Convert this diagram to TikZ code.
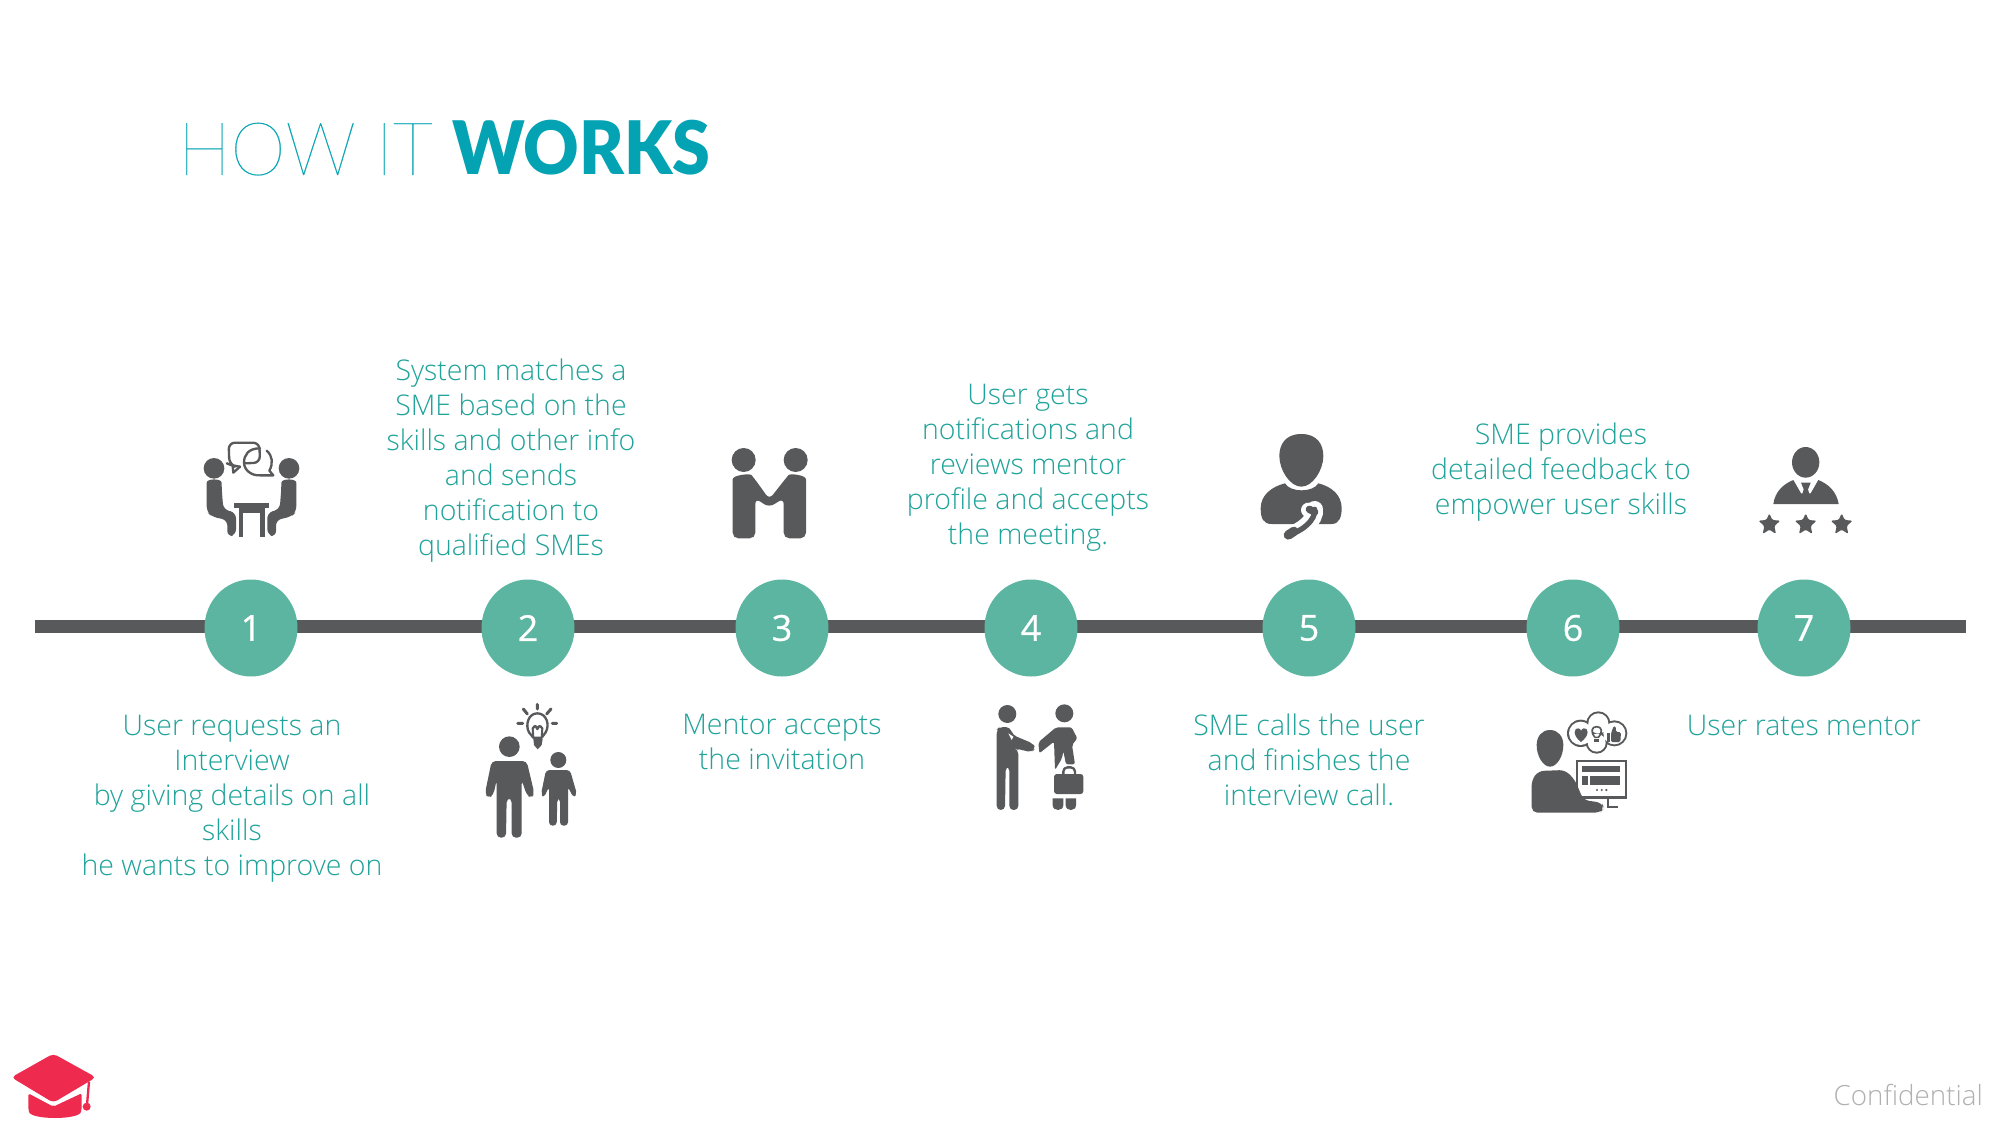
\documentclass[tikz,border=0pt]{standalone}
\usepackage{fontspec}
\usetikzlibrary{shapes.geometric}
\setmainfont{Open Sans Light}
\newfontfamily\thinf[FakeStretch=0.95,FakeBold=0.25]{Lato Hairline}
\newfontfamily\blackf[FakeStretch=0.925]{Lato Black}
\newfontfamily\numf[FakeBold=0.7]{Open Sans}
\definecolor{icon}{HTML}{58595B}
\definecolor{teal}{HTML}{1FA39A}
\definecolor{disc}{HTML}{5BB5A0}
\definecolor{head}{HTML}{03A3B3}
\definecolor{capred}{HTML}{EE2A4E}
\definecolor{conf}{HTML}{B0B0B0}
\tikzset{
  x=0.05cm,y=-0.05cm,
  ic/.style={fill=icon,draw=none,line join=round},
  ln/.style={draw=icon,line cap=round,line join=round,fill=none},
  wipe/.style={fill=white,draw=none},
  disc/.style={ellipse,fill=disc,draw=none,minimum width=4.65cm,minimum height=4.85cm,inner sep=0pt,text=white,font=\numf\fontsize{51}{54}\selectfont},
  copy/.style={text=teal,align=center,inner sep=0pt,font=\fontsize{40.5}{49.8}\selectfont},
  barline/.style={draw=icon,line width=13*0.05cm},
}
\begin{document}
\begin{tikzpicture}
\useasboundingbox (0,0) rectangle (2000,1125);
\fill[white] (0,0) rectangle (2000,1125);
% title
\node[anchor=base west,inner sep=0pt,text=head,font=\thinf\fontsize{105}{110}\selectfont] (title1) at (178,175) {HOW IT};
\node[anchor=base west,inner sep=0pt,text=head,font=\blackf\fontsize{105}{110}\selectfont] (title2) at (452,175) {WORKS};
% bar
\coordinate (barL) at (35,626);
\coordinate (barR) at (1966,626);
\draw[barline] (barL) -- (barR);
% discs
\node[disc] (n1) at (251,628) {\raisebox{-2pt}{1}};
\node[disc] (n2) at (528,628) {\raisebox{-2pt}{2}};
\node[disc] (n3) at (782,628) {\raisebox{-2pt}{3}};
\node[disc] (n4) at (1031,628) {\raisebox{-2pt}{4}};
\node[disc] (n5) at (1309,628) {\raisebox{-2pt}{5}};
\node[disc] (n6) at (1573,628) {\raisebox{-2pt}{6}};
\node[disc] (n7) at (1804,628) {\raisebox{-2pt}{7}};
% texts
\node[copy] (t1) at (232,799) {User requests an\\Interview\\by giving details on all\\skills\\he wants to improve on};
\node[copy] (t2) at (511,461) {System matches a\\SME based on the\\skills and other info\\and sends\\notification to\\qualified SMEs};
\node[copy] (t3) at (782,742) {Mentor accepts\\the invitation};
\node[copy] (t4) at (1028,468) {User gets\\notifications and\\reviews mentor\\profile and accepts\\the meeting.};
\node[copy] (t5) at (1309,760) {SME calls the user\\and finishes the\\interview call.};
\node[copy] (t6) at (1561,472) {SME provides\\detailed feedback to\\empower user skills};
\node[copy] (t7) at (1804,725) {User rates mentor};
\node[anchor=base east,inner sep=0pt,text=conf,font=\fontsize{39.5}{44}\selectfont] (conf) at (1983,1105) {Confidential};

% icon 1: meeting
\begin{scope}[shift={(180,420)},x=0.05cm/3,y=-0.05cm/3]
\fill[ic] (102,145) circle (31);
\fill[ic] (327,145) circle (31);
\fill[ic,rounded corners=8] (80,205) .. controls (80,175) and (125,175) .. (125,205) -- (130,268) -- (168,278) -- (168,345) -- (142,350) -- (142,300) -- (95,290) -- (80,275) -- cycle;
\fill[ic,rounded corners=8] (349,205) .. controls (349,175) and (304,175) .. (304,205) -- (299,268) -- (262,278) -- (262,345) -- (288,350) -- (288,300) -- (334,290) -- (349,275) -- cycle;
\fill[ic] (163,250) rectangle (268,263);
\fill[ic] (176,263) rectangle (254,280);
\fill[ic] (176,263) rectangle (190,350);
\fill[ic] (240,263) rectangle (254,350);
\draw[ln,line width=7*0.05cm/3,rounded corners=9] (180,140) -- (158,137) -- (148,133) -- (146,68) -- (238,68) -- (240,128) -- (195,130);
\draw[ln,line width=7*0.05cm/3] (180,140) -- (160,158) -- (158,137);
\draw[ln,line width=7*0.05cm/3] (240,85) .. controls (205,85) and (192,105) .. (192,128) .. controls (192,150) and (215,168) .. (240,166) -- (280,166) -- (268,152) .. controls (280,130) and (278,108) .. (260,92);
\end{scope}

% icon 2: adult, child and bulb
\begin{scope}[shift={(470,695)},x=0.05cm/3,y=-0.05cm/3]
\fill[ic] (118,155) circle (31);
\fill[ic] (265,195) circle (24);
\fill[ic,rounded corners=6] (65,198) -- (170,198) -- (193,295) -- (185,310) -- (170,300) -- (155,255) -- (155,428) -- (125,428) -- (125,310) -- (110,310) -- (108,428) -- (80,428) -- (80,255) -- (70,300) -- (55,310) -- (45,295) -- cycle;
\fill[ic,rounded corners=5] (228,225) -- (300,225) -- (321,298) -- (310,308) -- (294,275) -- (294,392) -- (270,392) -- (270,310) -- (262,310) -- (260,392) -- (237,392) -- (237,275) -- (222,308) -- (213,298) -- cycle;
\draw[ln,line width=7*0.05cm/3] (177,112) .. controls (165,90) and (175,55) .. (202,55) .. controls (230,55) and (240,90) .. (227,112);
\draw[ln,line width=7*0.05cm/3] (177,112) -- (190,128) -- (215,128) -- (227,112);
\draw[ln,line width=6*0.05cm/3] (190,128) -- (188,100) (215,128) -- (217,100);
\draw[ln,line width=7*0.05cm/3] (188,100) .. controls (195,88) and (202,95) .. (202,102) .. controls (202,95) and (210,88) .. (217,100);
\fill[ic] (190,132) -- (218,132) -- (215,150) -- (203,163) -- (192,150) -- cycle;
\draw[ln,line width=9*0.05cm/3] (202,28) -- (202,42) (160,42) -- (172,57) (243,42) -- (230,57) (143,85) -- (158,85) (247,85) -- (260,85);
\end{scope}

% icon 3: pair holding hands
\begin{scope}[shift={(700,430)},x=0.05cm/3,y=-0.05cm/3]
\fill[ic] (131,90) circle (36);
\fill[ic] (287,90) circle (36);
\fill[ic,rounded corners=8] (98,325) -- (98,165) .. controls (98,135) and (150,130) .. (165,148) -- (208,208) -- (255,148) .. controls (270,130) and (318,135) .. (318,165) -- (318,325) -- (251,325) -- (251,205) -- (207,232) -- (166,205) -- (166,325) -- cycle;
\end{scope}

% icon 4: handshake
\begin{scope}[shift={(980,695)},x=0.05cm/3,y=-0.05cm/3]
\fill[ic] (82,57) circle (27);
\fill[ic] (253,55) circle (27);
\fill[ic,rounded corners=6] (50,104) -- (58,96) -- (90,96) -- (98,120) -- (160,146) -- (166,160) -- (155,172) -- (105,160) -- (115,165) -- (115,345) -- (88,345) -- (88,215) -- (77,215) -- (75,345) -- (50,345) -- cycle;
\fill[white] (85,115) -- (100,125) -- (95,135) -- cycle;
\fill[ic,rounded corners=3] (228,97) -- (275,97) -- (292,130) -- (276,150) -- (285,208) -- (258,208) -- (250,168) -- (246,190) -- (225,225) -- (222,140) -- (178,175) -- (175,142) -- cycle;
\fill[ic,rounded corners=4] (222,237) rectangle (310,297);
\draw[ln,line width=7*0.05cm/3,rounded corners=6] (250,237) -- (250,217) -- (285,217) -- (285,237);
\fill[ic] (218,310) -- (250,310) -- (250,330) .. controls (250,350) and (218,350) .. (218,330) -- cycle;
\fill[ic] (257,310) -- (288,310) -- (288,330) .. controls (288,350) and (257,350) .. (257,330) -- cycle;
\end{scope}

% icon 5: person on the phone
\begin{scope}[shift={(1240,420)},x=0.05cm/3,y=-0.05cm/3]
\fill[ic] (184,42) .. controls (135,42) and (118,75) .. (118,108) .. controls (118,150) and (150,200) .. (184,200) .. controls (218,200) and (250,150) .. (250,108) .. controls (250,75) and (233,42) .. (184,42) -- cycle;
\fill[ic] (135,190) .. controls (95,200) and (62,225) .. (62,265) .. controls (62,295) and (70,312) .. (95,312) -- (275,312) .. controls (298,312) and (305,290) .. (305,265) .. controls (305,225) and (275,200) .. (235,190) .. controls (220,218) and (150,218) .. (135,190) -- cycle;
\draw[white,line width=50*0.05cm/3,line cap=round] (145,345) .. controls (185,335) and (228,300) .. (224,268);
\draw[white,line width=44*0.05cm/3,line cap=round] (224,272) -- (205,270);
\draw[ln,line width=16*0.05cm/3] (145,345) .. controls (185,335) and (228,300) .. (224,268);
\draw[ln,line width=28*0.05cm/3] (145,345) -- (162,334);
\draw[ln,line width=22*0.05cm/3] (224,276) -- (208,268);
\end{scope}

% icon 6: person at a screen with a thought cloud
\begin{scope}[shift={(1515,700)},x=0.05cm/3,y=-0.05cm/3]
\fill[ic] (105,90) .. controls (80,90) and (65,110) .. (65,135) .. controls (65,170) and (85,200) .. (105,200) .. controls (125,200) and (145,170) .. (145,135) .. controls (145,110) and (130,90) .. (105,90) -- cycle;
\fill[ic,rounded corners=8] (50,338) -- (50,240) -- (70,213) -- (150,210) -- (180,240) -- (205,300) -- (260,308) -- (268,325) -- (255,338) -- cycle;
\draw[icon,line width=7*0.05cm/3] (185,183) rectangle (332,292);
\fill[ic] (202,198) rectangle (316,217);
\fill[ic] (202,228) rectangle (218,255);
\fill[ic] (226,228) rectangle (316,255);
\fill[ic] (246,270) circle (3.5) (260,270) circle (3.5) (274,270) circle (3.5);
\draw[icon,line width=6*0.05cm/3] (280,295) -- (280,322) -- (310,322);
\fill[ic] (197,100) circle (41) (250,70) circle (36) (245,128) circle (33) (298,100) circle (39);
\fill[wipe] (197,100) circle (35) (250,70) circle (30) (245,128) circle (27) (298,100) circle (33);
\fill[ic] (198,126) .. controls (170,105) and (178,82) .. (190,85) .. controls (195,85) and (198,90) .. (198,93) .. controls (198,90) and (203,85) .. (206,85) .. controls (220,82) and (226,105) .. (198,126) -- cycle;
\draw[ln,line width=5*0.05cm/3] (240,112) .. controls (225,95) and (230,80) .. (245,80) .. controls (260,80) and (265,95) .. (250,112) -- cycle;
\fill[ic] (238,116) rectangle (252,126);
\fill[ic] (276,100) rectangle (284,126);
\fill[ic,rounded corners=2] (288,100) -- (296,78) -- (303,80) -- (302,95) -- (318,97) -- (316,126) -- (288,126) -- cycle;
\end{scope}

% icon 7: rated person
\begin{scope}[shift={(1740,430)},x=0.05cm/3,y=-0.05cm/3]
\fill[ic] (197,97) ellipse [x radius=41,y radius=46];
\fill[ic] (100,222) .. controls (105,185) and (130,162) .. (160,150) -- (183,190) -- (212,190) -- (235,150) .. controls (265,162) and (290,185) .. (296,222) -- cycle;
\fill[ic] (183,158) -- (212,158) -- (204,178) -- (208,192) -- (187,192) -- (191,178) -- cycle;
\foreach \cx in {88,197,305}{
  \fill[ic,rounded corners=2] (\cx,250) -- (\cx+9,270) -- (\cx+33,272) -- (\cx+15,288) -- (\cx+20,312) -- (\cx,299) -- (\cx-20,312) -- (\cx-15,288) -- (\cx-33,272) -- (\cx-9,270) -- cycle;
}
\end{scope}

% logo
\begin{scope}[shift={(0,1040)},x=0.05cm/3,y=-0.05cm/3]
\fill[capred,rounded corners=6] (160,41) -- (288,112) -- (160,188) -- (34,112) -- cycle;
\fill[capred,rounded corners=3] (85,160) -- (160,200) -- (245,160) -- (245,210) .. controls (235,240) and (95,240) .. (85,210) -- cycle;
\draw[capred,line width=7*0.05cm/3] (267,125) -- (261,195);
\fill[capred] (260,200) circle (12);
\end{scope}
\end{tikzpicture}
\end{document}
